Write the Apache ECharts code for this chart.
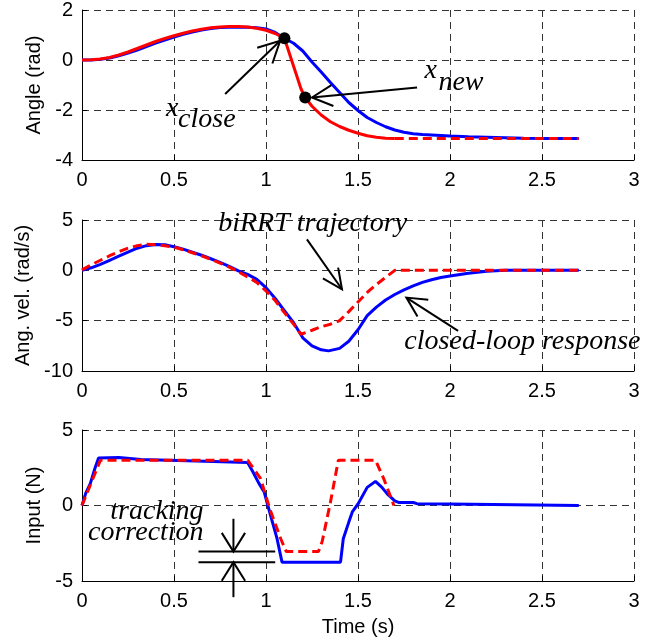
<!DOCTYPE html>
<html>
<head>
<meta charset="utf-8">
<script src="https://cdn.jsdelivr.net/npm/echarts@6/dist/echarts.min.js"></script>
<style>
html,body{margin:0;padding:0;background:#fff;}
#chart{width:662px;height:643px;}
</style>
</head>
<body>
<div id="chart"></div>
<script>
// ---------- DATA ----------
const xTicks = [0, 0.5, 1, 1.5, 2, 2.5, 3];
const angleTicks = [-4, -2, 0, 2];
const velTicks = [-10, -5, 0, 5];
const inputTicks = [-5, 0, 5];

// Angle (rad) - biRRT trajectory (red) and closed-loop response (blue)
const tAngleRef = [0,0.05,0.1,0.15,0.2,0.25,0.3,0.35,0.4,0.45,0.5,0.55,0.6,0.65,0.7,0.75,0.8,0.85,0.9,0.95,1.0,1.05,1.1,1.15,1.19,1.213,1.25,1.3,1.35,1.4,1.45,1.5,1.55,1.6,1.65,1.7,2.0,2.7];
const angleRef = [0,0.01,0.04,0.1,0.2,0.32,0.46,0.6,0.74,0.86,0.97,1.07,1.16,1.23,1.29,1.32,1.34,1.34,1.32,1.27,1.19,1.06,0.87,-0.25,-1.15,-1.5,-1.85,-2.2,-2.47,-2.66,-2.81,-2.93,-3.03,-3.09,-3.13,-3.14,-3.14,-3.14];
const tAngleResp = [0,0.05,0.1,0.15,0.2,0.25,0.3,0.35,0.4,0.45,0.5,0.55,0.6,0.65,0.7,0.75,0.8,0.85,0.9,0.95,1.0,1.05,1.1,1.15,1.2,1.25,1.3,1.35,1.4,1.45,1.5,1.55,1.6,1.65,1.7,1.75,1.8,1.85,1.9,2.0,2.1,2.2,2.3,2.4,2.5,2.7];
const angleResp = [0,0.0,0.03,0.08,0.17,0.28,0.4,0.54,0.68,0.8,0.92,1.03,1.12,1.2,1.26,1.3,1.31,1.31,1.31,1.29,1.24,1.1,0.87,0.67,0.36,-0.08,-0.48,-0.9,-1.3,-1.7,-2.02,-2.3,-2.5,-2.67,-2.8,-2.89,-2.95,-2.98,-3.0,-3.04,-3.07,-3.09,-3.11,-3.13,-3.14,-3.14];
// tree nodes x_close and x_new
const nodeT = [1.10, 1.213];
const nodeAngle = [0.87, -1.5];

// Angular velocity (rad/s)
const tVelRef = [0,0.05,0.1,0.15,0.2,0.25,0.3,0.35,0.4,0.45,0.5,0.55,0.6,0.65,0.7,0.75,0.8,0.85,0.9,0.95,1.0,1.05,1.1,1.15,1.19,1.25,1.3,1.35,1.4,1.45,1.5,1.55,1.6,1.65,1.7,2.7];
const velRef = [0.05,0.55,1.0,1.45,1.85,2.2,2.45,2.58,2.55,2.45,2.3,2.05,1.75,1.45,1.1,0.72,0.32,-0.15,-0.65,-1.2,-2.05,-3.0,-4.2,-5.35,-6.35,-5.95,-5.6,-5.35,-5.0,-4.1,-3.15,-2.2,-1.4,-0.7,0,0];
const tVelResp = [0,0.05,0.1,0.15,0.2,0.25,0.3,0.35,0.4,0.45,0.5,0.55,0.6,0.65,0.7,0.75,0.8,0.85,0.9,0.95,1.0,1.05,1.1,1.15,1.2,1.25,1.3,1.34,1.4,1.45,1.5,1.55,1.6,1.65,1.7,1.75,1.8,1.85,1.9,1.95,2.0,2.1,2.2,2.3,2.7];
const velResp = [0,0.25,0.6,1.0,1.4,1.8,2.2,2.45,2.57,2.55,2.35,2.1,1.8,1.5,1.15,0.8,0.4,-0.05,-0.4,-0.9,-1.72,-2.8,-4.0,-5.2,-6.7,-7.5,-7.9,-8.0,-7.75,-7.05,-5.9,-4.5,-3.65,-2.95,-2.4,-1.95,-1.55,-1.2,-0.93,-0.72,-0.56,-0.28,-0.1,0,0];

// Input (N)
const tInputRef = [0,0.1,0.9,0.97,1.02,1.08,1.11,1.285,1.305,1.35,1.393,1.595,1.64,1.695];
const inputRef = [0,3.0,3.0,1.8,-0.2,-2.2,-3.05,-3.05,-2.4,0.2,3.0,3.0,1.77,0];
const tInputResp = [0,0.02,0.045,0.07,0.09,0.2,0.21,0.32,0.33,0.62,0.63,0.9,0.93,0.96,0.99,1.01,1.06,1.087,1.405,1.42,1.45,1.47,1.5,1.55,1.595,1.63,1.66,1.7,1.72,1.8,1.82,2.0,2.01,2.7];
const inputResp = [0,0.8,1.45,2.45,3.15,3.18,3.1,3.05,2.95,2.95,2.85,2.85,2.2,1.5,0.9,0,-2.2,-3.75,-3.75,-2.2,-1.1,-0.4,0.1,1.2,1.6,1.2,0.75,0.3,0.2,0.2,0.12,0.1,0,0];

// annotation anchors [t, value]
const closeArrow = [[0.778, -1.36], [1.077, 0.77]];
const newArrow = [[1.821, -1.10], [1.25, -1.50]];
const birrtArrow = [[1.2225, 3.07], [1.413, -1.88]];
const clArrow = [[2.044, -6.01], [1.763, -2.71]];
const corrDownArrow = [[0.823, -0.88], [0.823, -3.05]];
const corrUpArrow = [[0.823, -6.07], [0.823, -3.75]];
const corrLevels = [-3.05, -3.75];
const corrSpan = [0.633, 1.05];

// ---------- CHART ----------
const zip = (a, b) => a.map((v, i) => [v, b[i]]);
const chart = echarts.init(document.getElementById('chart'), null, {renderer: 'canvas'});

const SANS = 'Liberation Sans, Arial, Helvetica, sans-serif';
const SERIF = 'Liberation Serif, Times New Roman, serif';
const gridDefs = [
  {left: 82, right: 28, top: 10, height: 150},
  {left: 82, right: 28, top: 220, height: 151},
  {left: 82, right: 28, top: 430, height: 151}
];
const yTicks = [angleTicks, velTicks, inputTicks];
const yNames = ['Angle (rad)', 'Ang. vel. (rad/s)', 'Input (N)'];

const gridLine = {show: true, lineStyle: {color: '#333', width: 1, type: [7, 5]}};
const xAxes = gridDefs.map((g, i) => ({
  type: 'value', gridIndex: i, min: xTicks[0], max: xTicks[xTicks.length - 1],
  interval: xTicks[1] - xTicks[0],
  name: i === 2 ? 'Time (s)' : '', nameLocation: 'middle', nameGap: 36,
  nameTextStyle: {fontFamily: SANS, fontSize: 20, color: '#000'},
  axisLine: {show: true, onZero: false, lineStyle: {color: '#000', width: 1}},
  axisTick: {show: true, inside: true, length: 5, lineStyle: {color: '#000'}},
  axisLabel: {fontFamily: SANS, fontSize: 20, color: '#000', margin: 10},
  splitLine: gridLine
}));
const yAxes = gridDefs.map((g, i) => ({
  type: 'value', gridIndex: i, min: yTicks[i][0], max: yTicks[i][yTicks[i].length - 1],
  interval: yTicks[i][1] - yTicks[i][0],
  name: yNames[i], nameLocation: 'middle', nameGap: 38, nameRotate: 90,
  nameTextStyle: {fontFamily: SANS, fontSize: 20, color: '#000'},
  axisLine: {show: true, onZero: false, lineStyle: {color: '#000', width: 1}},
  axisTick: {show: true, inside: true, length: 5, lineStyle: {color: '#000'}},
  axisLabel: {fontFamily: SANS, fontSize: 20, color: '#000', margin: 9},
  splitLine: gridLine
}));

const blue = '#0000ff', red = '#ff0000';
const lineSeries = (gi, data, color, type, z) => ({
  type: 'line', xAxisIndex: gi, yAxisIndex: gi, data: data, symbol: 'none',
  lineStyle: {color: color, width: 3, type: type}, z: z, animation: false
});

const refAngle = zip(tAngleRef, angleRef);
const splitIdx = tAngleRef.indexOf(1.7);

const option = {
  animation: false,
  grid: gridDefs,
  xAxis: xAxes,
  yAxis: yAxes,
  series: [
    lineSeries(0, zip(tAngleResp, angleResp), blue, 'solid', 2),
    lineSeries(0, refAngle.slice(0, splitIdx + 1), red, 'solid', 3),
    lineSeries(0, refAngle.slice(splitIdx), red, [9, 5], 3),
    {type: 'scatter', xAxisIndex: 0, yAxisIndex: 0, data: zip(nodeT, nodeAngle),
     symbol: 'circle', symbolSize: 12, itemStyle: {color: '#000', opacity: 1}, z: 5, animation: false},
    lineSeries(1, zip(tVelResp, velResp), blue, 'solid', 2),
    lineSeries(1, zip(tVelRef, velRef), red, [9, 5], 3),
    lineSeries(2, zip(tInputResp, inputResp), blue, 'solid', 2),
    lineSeries(2, zip(tInputRef, inputRef), red, [9, 5], 3)
  ]
};
chart.setOption(option);

// ---------- ANNOTATIONS ----------
const px = (g, p) => chart.convertToPixel({gridIndex: g}, p);
const els = [];
const S = {stroke: '#000', lineWidth: 2, fill: null};
function arrow(g, pair, head, ang) {
  const a = px(g, pair[0]), b = px(g, pair[1]);
  const dx = a[0] - b[0], dy = a[1] - b[1], L = Math.hypot(dx, dy);
  const ux = dx / L, uy = dy / L, r = ang * Math.PI / 180;
  const rot = (s) => [b[0] + head * (ux * Math.cos(s) - uy * Math.sin(s)), b[1] + head * (ux * Math.sin(s) + uy * Math.cos(s))];
  els.push({type: 'line', shape: {x1: a[0], y1: a[1], x2: b[0], y2: b[1]}, style: S, z: 10});
  els.push({type: 'polyline', shape: {points: [rot(r), b, rot(-r)]}, style: S, z: 10});
}
function label(g, p, txt, size, align) {
  const q = px(g, p);
  els.push({type: 'text', x: q[0], y: q[1] - 0.3 * size, z: 10,
    style: {text: txt, font: 'italic ' + size + 'px ' + SERIF, fill: '#000',
            align: align || 'left', verticalAlign: 'middle'}});
}
arrow(0, closeArrow, 24, 27);
arrow(0, newArrow, 23, 27);
arrow(1, birrtArrow, 22, 25);
arrow(1, clArrow, 22, 27);
arrow(2, corrDownArrow, 22, 32);
arrow(2, corrUpArrow, 22, 32);
corrLevels.forEach(v => {
  const a = px(2, [corrSpan[0], v]), b = px(2, [corrSpan[1], v]);
  els.push({type: 'line', shape: {x1: a[0], y1: a[1], x2: b[0], y2: b[1]}, style: S, z: 10});
});
label(0, [0.457, -2.27], 'x', 28);
label(0, [0.522, -2.71], 'close', 28);
label(0, [1.861, -0.75], 'x', 28);
label(0, [1.937, -1.23], 'new', 28);
label(1, [0.74, 3.79], 'biRRT trajectory', 28);
label(1, [1.752, -7.89], 'closed-loop response', 28);
label(2, [0.661, -0.99], 'tracking', 28, 'right');
label(2, [0.661, -2.38], 'correction', 28, 'right');
chart.setOption({graphic: {elements: els}});
</script>
</body>
</html>
